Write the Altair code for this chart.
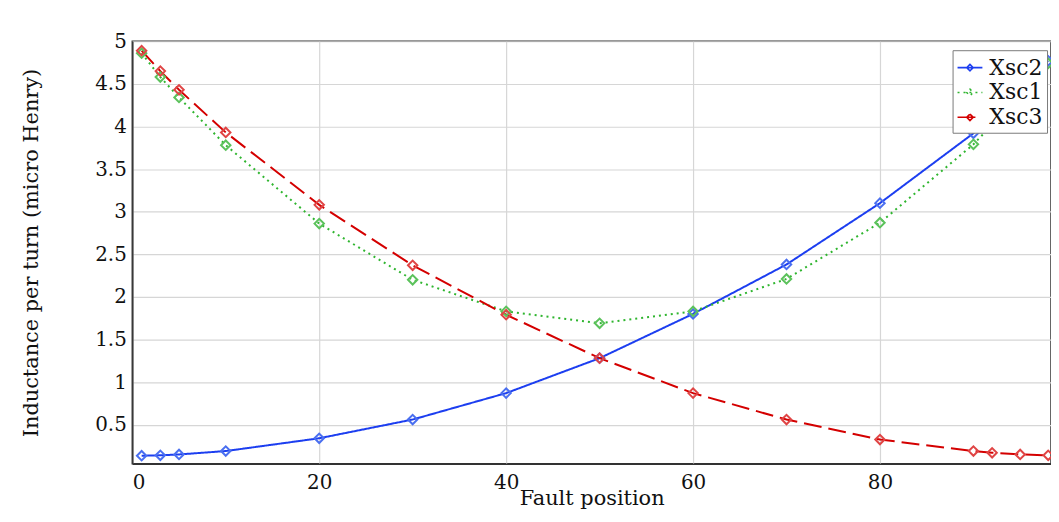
import altair as alt
import pandas as pd

positions = [1, 3, 5, 10, 20, 30, 40, 50, 60, 70, 80, 90, 92, 95, 98]
xsc2 = [0.135, 0.14, 0.15, 0.19, 0.34, 0.56, 0.87, 1.28, 1.80, 2.38, 3.10, 3.92, 4.15, 4.45, 4.77]
xsc1 = [4.86, 4.58, 4.34, 3.78, 2.86, 2.20, 1.83, 1.69, 1.83, 2.21, 2.87, 3.79, 4.02, 4.36, 4.74]
xsc3 = [4.89, 4.65, 4.43, 3.93, 3.08, 2.37, 1.79, 1.28, 0.87, 0.56, 0.325, 0.19, 0.17, 0.15, 0.14]

series_names = ["Xsc2", "Xsc1", "Xsc3"]
line_colors = ["#1c3ef0", "#2fb52f", "#d40000"]
marker_colors = ["#4a6ff0", "#5cc25c", "#e04545"]
dashes = [[1, 0], [2, 4], [18, 7]]

rows = []
for name, vals in zip(series_names, [xsc2, xsc1, xsc3]):
    for p, v in zip(positions, vals):
        rows.append({"pos": p, "val": v, "series": name})
df = pd.DataFrame(rows)

FONT = "DejaVu Serif"

x = alt.X("pos:Q", scale=alt.Scale(domain=[0, 98.3], nice=False, zero=False),
          axis=alt.Axis(values=[0, 20, 40, 60, 80], title="Fault position",
                        grid=True, ticks=False, labelPadding=9, titlePadding=-5))
y = alt.Y("val:Q", scale=alt.Scale(domain=[0.04, 5], nice=False, zero=False),
          axis=alt.Axis(values=[0.5, 1, 1.5, 2, 2.5, 3, 3.5, 4, 4.5, 5], format=".1~f",
                        title="Inductance per turn (micro Henry)", grid=True, ticks=False,
                        labelPadding=6, titlePadding=54))

legend = alt.Legend(
    title=None, orient="none", legendX=825, legendY=9,
    symbolType="M-1,0H1M0,-0.26L0.26,0L0,0.26L-0.26,0Z",
    symbolSize=625, symbolStrokeWidth=1.6, symbolFillColor="white",
    labelFont=FONT, labelFontSize=22, labelColor="#111",
    fillColor="white", strokeColor="#7a7a7a", padding=4, rowPadding=0,
    labelOffset=6,
)

lines = alt.Chart(df).mark_line(strokeWidth=2, clip=True).encode(
    x=x, y=y,
    color=alt.Color("series:N", scale=alt.Scale(domain=series_names, range=line_colors), legend=legend),
    strokeDash=alt.StrokeDash("series:N", scale=alt.Scale(domain=series_names, range=dashes), legend=legend),
    order=alt.Order("pos:Q"),
)

points = alt.Chart(df).mark_point(shape="diamond", size=90, strokeWidth=2, filled=False, opacity=1, clip=True).encode(
    x=x, y=y,
    stroke=alt.Stroke("series:N", scale=alt.Scale(domain=series_names, range=marker_colors), legend=None),
)

chart = alt.layer(lines, points).properties(
    width=924, height=425,
    background="white",
    autosize=alt.AutoSizeParams(type="none"),
    padding={"left": 125, "top": 32, "right": 0, "bottom": 49},
).configure_view(
    stroke="#333", strokeWidth=1.5
).configure_axis(
    labelFont=FONT, titleFont=FONT, labelFontSize=20, titleFontSize=21,
    labelColor="#111", titleColor="#111", titleFontWeight="normal",
    gridColor="#d6d6d6", gridWidth=1.2, domainColor="#333", domainWidth=1.5,
)

chart.save("out.html", embed_options={"renderer": "svg", "actions": False})
